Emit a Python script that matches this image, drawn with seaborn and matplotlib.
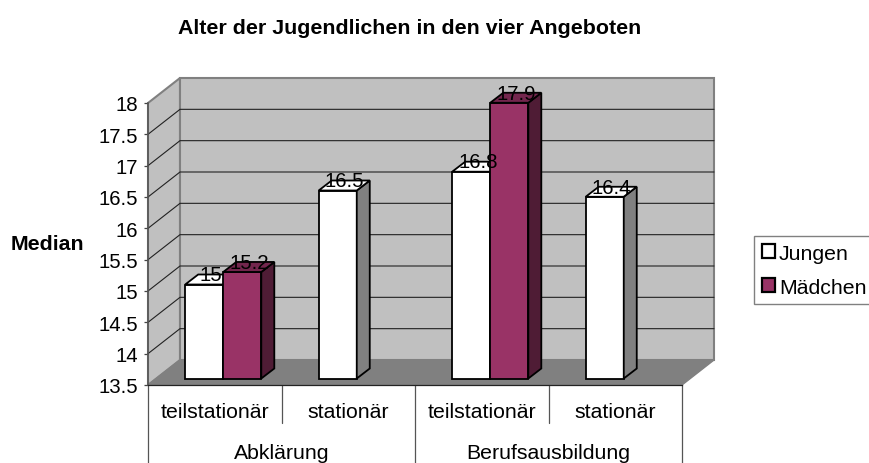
import numpy as np
import pandas as pd
import matplotlib
matplotlib.use("Agg")
import matplotlib.pyplot as plt
from matplotlib.patches import Patch, Polygon
import seaborn as sns

groups = ["Abklärung", "Abklärung", "Berufsausbildung", "Berufsausbildung"]
subgroups = ["teilstationär", "stationär", "teilstationär", "stationär"]
jungen = [15, 16.5, 16.8, 16.4]
maedchen = [15.2, np.nan, 17.9, np.nan]
yticks = [13.5, 14, 14.5, 15, 15.5, 16, 16.5, 17, 17.5, 18]

W, H = 869, 464
sns.set_theme(style="white")
plt.rcParams["font.family"] = ["Liberation Sans", "DejaVu Sans"]
FS = 14.7
FS_CAT = 15.3
FS_BOLD = 15.4
INK = "#222222"
WALL = "#c0c0c0"
FLOOR = "#808080"

# long table for seaborn
keys = [f"{g} {s}" for g, s in zip(groups, subgroups)]
df = pd.DataFrame({
    "key": keys * 2,
    "median": jungen + maedchen,
    "geschlecht": ["Jungen"] * 4 + ["Mädchen"] * 4,
})


def px_axes(fig, left, right, top, bottom):
    return fig.add_axes([left / W, 1 - bottom / H, (right - left) / W, (bottom - top) / H])


fig = plt.figure(figsize=(W / 100, H / 100), dpi=100)
ax = px_axes(fig, 148, 682, 104, 386)
ax2 = px_axes(fig, 156.5, 690.5, 97.5, 379.5)  # bars stand a bit inside the floor

x0, x1 = -0.5, 3.5
y0, y1 = 13.5, 18
px_x = (x1 - x0) / 534
px_y = (y1 - y0) / 282
for a in (ax, ax2):
    a.set_xlim(x0, x1)
    a.set_ylim(y0, y1)

# walls and floor
wall_dx, wall_dy = 32 * px_x, 25 * px_y
ax.set_facecolor("none")
ax.add_patch(Polygon([(x0, y0), (x0, y1), (x0 + wall_dx, y1 + wall_dy), (x0 + wall_dx, y0 + wall_dy)],
                     fc=WALL, ec=FLOOR, lw=1.5, clip_on=False, zorder=0))
ax.add_patch(Polygon([(x0 + wall_dx, y0 + wall_dy), (x0 + wall_dx, y1 + wall_dy), (x1 + wall_dx, y1 + wall_dy), (x1 + wall_dx, y0 + wall_dy)],
                     fc=WALL, ec=FLOOR, lw=1.5, clip_on=False, zorder=0))
ax.add_patch(Polygon([(x0, y0), (x1, y0), (x1 + wall_dx, y0 + wall_dy), (x0 + wall_dx, y0 + wall_dy)],
                     fc=FLOOR, ec=FLOOR, lw=1, clip_on=False, zorder=1))
for t in yticks[1:-1]:
    ax.plot([x0, x0 + wall_dx, x1 + wall_dx], [t, t + wall_dy, t + wall_dy],
            color=INK, lw=0.8, clip_on=False, zorder=0.5, solid_joinstyle="miter")

ax.set_yticks(yticks)
ax.set_yticklabels([f"{t:g}" for t in yticks], fontsize=FS, color="black")
ax.tick_params(axis="y", length=3, width=0.9, color="#444444", pad=4, left=True)
ax.set_xticks(range(4))
ax.set_xticklabels(subgroups, fontsize=FS_CAT, color="black")
ax.tick_params(axis="x", length=0, pad=12)
ax.spines["top"].set_visible(False)
ax.spines["right"].set_visible(False)
ax.spines["left"].set_color("#555555")
ax.spines["left"].set_linewidth(1.1)
ax.spines["bottom"].set_color(INK)
ax.spines["bottom"].set_linewidth(0.9)
ax.spines["left"].set_zorder(2)
ax.spines["bottom"].set_zorder(2)

# two level category axis
tr = ax.get_xaxis_transform()
for x, low in zip([-0.5, 0.5, 1.5, 2.5, 3.5], [-0.28, -0.135, -0.28, -0.135, -0.28]):
    ax.plot([x, x], [0, low], color="#555555", lw=0.9, transform=tr, clip_on=False)
ax.text(0.5, -0.241, groups[0], transform=tr, ha="center", va="center", fontsize=FS_CAT, color="black")
ax.text(2.5, -0.241, groups[2], transform=tr, ha="center", va="center", fontsize=FS_CAT, color="black")

# bars
sns.barplot(data=df, x="key", y="median", hue="geschlecht", order=keys,
            hue_order=["Jungen", "Mädchen"], palette=["white", "#993366"], saturation=1,
            width=0.57, dodge=True, gap=0, edgecolor="black", linewidth=1.3,
            errorbar=None, legend=False, ax=ax2)
ax2.set_xlim(x0, x1)
ax2.set_ylim(y0, y1)
ax2.axis("off")

bar_dx, bar_dy = 13 * px_x, 10 * px_y
n = len(jungen)
for i, p in enumerate(ax2.patches):
    top = p.get_height()
    if np.isnan(top):
        continue
    girl = i >= n
    z = 3 if girl else 2
    side_c = "#4f1c35" if girl else "#808080"
    top_c = "#73264d" if girl else "white"
    left, right = p.get_x(), p.get_x() + p.get_width()
    p.set_y(y0)
    p.set_height(top - y0)
    p.set_clip_on(False)
    p.set_zorder(z)
    ax2.add_patch(Polygon([(right, y0), (right, top), (right + bar_dx, top + bar_dy), (right + bar_dx, y0 + bar_dy)],
                          fc=side_c, ec="black", lw=1.3, clip_on=False, zorder=z, joinstyle="miter"))
    ax2.add_patch(Polygon([(left, top), (right, top), (right + bar_dx, top + bar_dy), (left + bar_dx, top + bar_dy)],
                          fc=top_c, ec="black", lw=1.3, clip_on=False, zorder=z, joinstyle="miter"))
    ax2.annotate(f"{top:g}", ((left + right) / 2, top), xytext=(5, 7), textcoords="offset points",
                 ha="center", va="center", fontsize=FS, color="black", zorder=6, annotation_clip=False)

fig.text(409.5 / W, 1 - 29 / H, "Alter der Jugendlichen in den vier Angeboten",
         ha="center", va="center", fontsize=FS_BOLD, fontweight="bold", color="black")
fig.text(47 / W, 1 - 245 / H, "Median", ha="center", va="center",
         fontsize=FS_BOLD, fontweight="bold", color="black")

handles = [Patch(fc="white", ec="black", lw=1.6), Patch(fc="#993366", ec="black", lw=1.6)]
leg = fig.legend(handles, ["Jungen", "Mädchen"], loc="upper left",
                 bbox_to_anchor=(754 / W, 1 - 237 / H), borderaxespad=0,
                 fontsize=FS_CAT, frameon=True, fancybox=False, edgecolor="#808080",
                 framealpha=1, handlelength=0.62, handleheight=0.62, handletextpad=0.2,
                 borderpad=0.36, labelspacing=0.7, labelcolor="black")
leg.get_frame().set_linewidth(1)

fig.savefig("out.png", dpi=100, facecolor="white")
